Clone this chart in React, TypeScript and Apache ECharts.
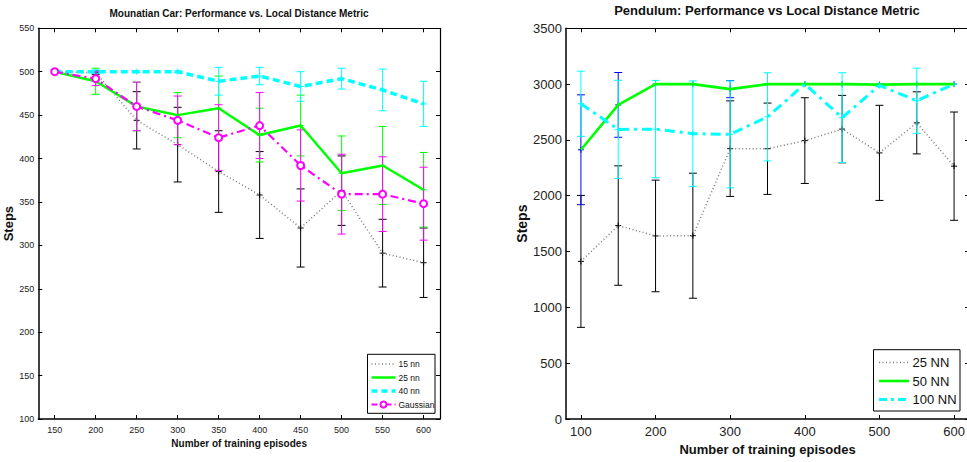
import React, { useEffect, useRef } from "react";
import * as echarts from "echarts";

// ---------- Data: Mountain Car ----------
const mcEpisodes = [150, 200, 250, 300, 350, 400, 450, 500, 550, 600];
const mc15 = [500, 499, 444, 416, 385, 358, 320, 363, 291, 280];
const mc15Err = [0, 2, 33, 43, 47, 50, 45, 40, 39, 40];
const mc25 = [500, 489, 460, 450, 458, 427, 438, 383, 392, 364];
const mc25Err = [0, 15, 28, 26, 37, 31, 35, 43, 45, 43];
const mc40 = [500, 500, 500, 500, 489, 495, 483, 492, 479, 463];
const mc40Err = [0, 2, 1, 1, 16, 10, 17, 12, 24, 26];
const mcGauss = [500, 492, 460, 444, 424, 438, 392, 359, 359, 348];
const mcGaussErr = [0, 8, 28, 28, 38, 38, 41, 46, 43, 42];
const mcXTicks = [150, 200, 250, 300, 350, 400, 450, 500, 550, 600];

// ---------- Data: Pendulum ----------
const pEpisodes = [100, 150, 200, 250, 300, 350, 400, 450, 500, 550, 600];
const p25 = [1412, 1733, 1640, 1642, 2422, 2421, 2494, 2597, 2384, 2653, 2265];
const p25Err = [591, 535, 500, 560, 428, 409, 384, 302, 426, 278, 485];
const p50 = [2412, 2814, 3000, 3000, 2955, 3000, 3000, 3000, 2995, 3000, 3000];
const p50Err = [492, 290, 0, 0, 77, 0, 0, 0, 5, 0, 0];
const p100 = [2824, 2594, 2597, 2556, 2550, 2707, 3000, 2700, 2988, 2851, 3000];
const p100Err = [292, 440, 436, 473, 479, 395, 0, 402, 10, 292, 0];
const pXTicks = [100, 200, 300, 400, 500, 600];

const SANS = "'Liberation Sans', Arial, Helvetica, sans-serif";

const GRAY = "#7a7a7a";
const GREEN = "#00ff00";
const CYAN = "#00ffff";
const MAGENTA = "#ff00ff";
const BLUE = "#0000ff";

function lineSeries(name: string, xs: number[], ys: number[], color: string, width: number, dash: any, axis: number, extra: any = {}) {
  return {
    type: "line",
    name,
    xAxisIndex: axis,
    yAxisIndex: axis,
    data: xs.map((x, i) => [x, ys[i]]),
    showSymbol: false,
    symbol: "none",
    lineStyle: { color, width, type: dash },
    itemStyle: { color },
    z: 3,
    ...extra,
  };
}

function errSeries(xs: number[], ys: number[], errs: number[], color: string, axis: number) {
  return {
    type: "custom",
    xAxisIndex: axis,
    yAxisIndex: axis,
    data: xs.map((x, i) => [x, ys[i], errs[i]]),
    encode: { x: 0, y: 1 },
    z: 2,
    renderItem: (params: any, api: any) => {
      const x = api.value(0);
      const y = api.value(1);
      const e = api.value(2);
      const c = api.coord([x, y]);
      const t = api.coord([x, y + e]);
      const b = api.coord([x, y - e]);
      const st = { stroke: color, lineWidth: 1, fill: null };
      const hw = 4;
      const children: any[] = [];
      if (e > 0) {
        children.push({ type: "line", shape: { x1: c[0], y1: t[1], x2: c[0], y2: b[1] }, style: st });
        children.push({ type: "line", shape: { x1: c[0] - hw, y1: t[1], x2: c[0] + hw, y2: t[1] }, style: st });
        children.push({ type: "line", shape: { x1: c[0] - hw, y1: b[1], x2: c[0] + hw, y2: b[1] }, style: st });
      }
      children.push({ type: "line", shape: { x1: c[0] - 3, y1: c[1], x2: c[0] + 3, y2: c[1] }, style: st });
      children.push({ type: "line", shape: { x1: c[0], y1: c[1] - 3, x2: c[0], y2: c[1] + 3 }, style: st });
      return { type: "group", children };
    },
  };
}

function legendBox(x: number, y: number, w: number, h: number, items: any[], font: string, size: number, lx1: number, lx2: number, tx: number) {
  const children: any[] = [
    { type: "rect", shape: { x, y, width: w, height: h }, style: { fill: "#fff", stroke: "#000", lineWidth: 1 } },
  ];
  items.forEach((it) => {
    children.push({
      type: "line",
      shape: { x1: lx1, y1: it.y, x2: lx2, y2: it.y },
      style: { stroke: it.color, lineWidth: it.width, lineDash: it.dash },
    });
    if (it.marker) {
      children.push({
        type: "circle",
        shape: { cx: (lx1 + lx2) / 2, cy: it.y, r: 3 },
        style: { fill: "#fff", stroke: it.color, lineWidth: 2 },
      });
    }
    children.push({
      type: "text",
      x: tx,
      y: it.y,
      style: { text: it.label, fill: "#111", font: `${size}px ${font}`, verticalAlign: "middle", align: "left" },
    });
  });
  return { type: "group", children, z: 100 };
}

function axisPair(gridIndex: number, min: number, max: number, ticks: number[], size: number, name: string, nameSize: number, nameGap: number) {
  const common = {
    type: "value",
    gridIndex,
    min,
    max,
    splitLine: { show: false },
    axisTick: { show: true, inside: true, length: 4, customValues: ticks, lineStyle: { color: "#000", width: 1 } },
  };
  return [
    {
      ...common,
      position: "bottom",
      axisLine: { show: true, onZero: false, lineStyle: { color: "#000", width: 1.5 } },
      axisLabel: { show: true, customValues: ticks, fontFamily: SANS, fontSize: size, color: "#222", margin: 6, formatter: (v: number) => String(v) },
      name,
      nameLocation: "middle",
      nameGap,
      nameTextStyle: { fontFamily: SANS, fontSize: nameSize, fontWeight: "bold", color: "#111" },
    },
    {
      ...common,
      position: "top",
      axisLine: { show: true, onZero: false, lineStyle: { color: "#000", width: 1.2 } },
      axisLabel: { show: false },
    },
  ];
}

function yPair(gridIndex: number, min: number, max: number, interval: number, size: number, nameSize: number, nameGap: number) {
  const common = {
    type: "value",
    gridIndex,
    min,
    max,
    interval,
    splitLine: { show: false },
    axisTick: { show: true, inside: true, length: 4, lineStyle: { color: "#000", width: 1 } },
  };
  return [
    {
      ...common,
      position: "left",
      axisLine: { show: true, onZero: false, lineStyle: { color: "#000", width: 1.5 } },
      axisLabel: { show: true, fontFamily: SANS, fontSize: size, color: "#222", margin: 4, formatter: (v: number) => String(v) },
      name: "Steps",
      nameLocation: "middle",
      nameGap,
      nameTextStyle: { fontFamily: SANS, fontSize: nameSize, fontWeight: "bold", color: "#111" },
    },
    {
      ...common,
      position: "right",
      axisLine: { show: true, onZero: false, lineStyle: { color: "#000", width: 1.2 } },
      axisLabel: { show: false },
    },
  ];
}

export default function App() {
  const ref = useRef<HTMLDivElement>(null);
  useEffect(() => {
    if (!ref.current) return;
    const chart = echarts.init(ref.current, undefined, { renderer: "svg" });
    const DOT = [1, 2.5];
    const option: any = {
      animation: false,
      backgroundColor: "#fff",
      title: [
        {
          text: "Mounatian Car: Performance vs. Local Distance Metric",
          left: 239,
          top: 8,
          textAlign: "center",
          padding: 0,
          textStyle: { fontFamily: SANS, fontSize: 10, fontWeight: "bold", color: "#111" },
        },
        {
          text: "Pendulum: Performance vs Local Distance Metric",
          left: 767,
          top: 4,
          textAlign: "center",
          padding: 0,
          textStyle: { fontFamily: SANS, fontSize: 13, fontWeight: "bold", color: "#111" },
        },
      ],
      grid: [
        { left: 38.3, top: 28.3, width: 401.7, height: 390.7, containLabel: false },
        { left: 566, top: 28.3, width: 403, height: 390.7, containLabel: false },
      ],
      xAxis: [
        ...axisPair(0, 130, 620, mcXTicks, 9, "Number of training episodes", 10, 19),
        ...axisPair(1, 80, 620, pXTicks, 13, "Number of training episodes", 13, 24),
      ],
      yAxis: [
        ...yPair(0, 100, 550, 50, 9, 13, 20),
        ...yPair(1, 0, 3500, 500, 13, 14, 35),
      ],
      series: [
        errSeries(mcEpisodes, mc15, mc15Err, "#000", 0),
        lineSeries("15 nn", mcEpisodes, mc15, GRAY, 1.5, DOT, 0),
        errSeries(mcEpisodes, mc25, mc25Err, GREEN, 0),
        lineSeries("25 nn", mcEpisodes, mc25, GREEN, 2.5, "solid", 0),
        errSeries(mcEpisodes, mc40, mc40Err, CYAN, 0),
        lineSeries("40 nn", mcEpisodes, mc40, CYAN, 3.5, [7, 4], 0),
        errSeries(mcEpisodes, mcGauss, mcGaussErr, MAGENTA, 0),
        lineSeries("Gaussian", mcEpisodes, mcGauss, MAGENTA, 2.2, [8, 4, 2, 4], 0, {
          showSymbol: true,
          symbol: "emptyCircle",
          symbolSize: 7,
          itemStyle: { color: MAGENTA, borderColor: MAGENTA, borderWidth: 2 },
        }),
        errSeries(pEpisodes, p25, p25Err, "#000", 2),
        lineSeries("25 NN", pEpisodes, p25, GRAY, 1.5, DOT, 2),
        errSeries(pEpisodes, p50, p50Err, BLUE, 2),
        lineSeries("50 NN", pEpisodes, p50, GREEN, 2.6, "solid", 2),
        errSeries(pEpisodes, p100, p100Err, CYAN, 2),
        lineSeries("100 NN", pEpisodes, p100, CYAN, 3, [10, 5, 3, 5], 2),
      ],
      graphic: [
        legendBox(367.5, 354.3, 67.5, 59, [
          { y: 364, color: GRAY, width: 1.5, dash: DOT, label: "15 nn" },
          { y: 377.5, color: GREEN, width: 2.5, dash: null, label: "25 nn" },
          { y: 391, color: CYAN, width: 3.5, dash: [6, 4], label: "40 nn" },
          { y: 404.5, color: MAGENTA, width: 2, dash: [6, 3, 2, 3], label: "Gaussian", marker: true },
        ], SANS, 8.5, 371.5, 395.5, 398.5),
        legendBox(873.5, 349.7, 86.5, 61.3, [
          { y: 362.5, color: GRAY, width: 1.5, dash: DOT, label: "25 NN" },
          { y: 381, color: GREEN, width: 2.6, dash: null, label: "50 NN" },
          { y: 399.5, color: CYAN, width: 3, dash: [8, 4, 3, 4], label: "100 NN" },
        ], SANS, 13, 879, 909, 912.5),
      ],
    };
    chart.setOption(option);
    return () => chart.dispose();
  }, []);
  return (
    <div
      ref={ref}
      style={{ position: "fixed", left: 0, top: 0, width: 975, height: 462, background: "#fff" }}
    />
  );
}
